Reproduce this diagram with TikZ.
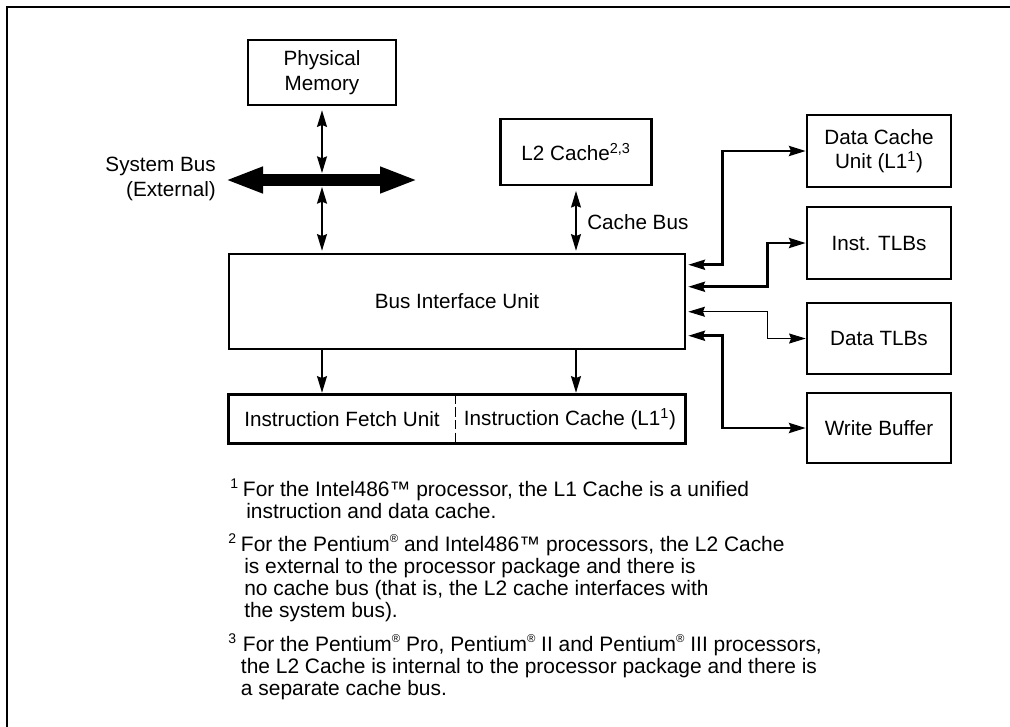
\documentclass[tikz,border=0pt]{standalone}
\usepackage{fontspec}
\setmainfont{Liberation Sans}
\usetikzlibrary{arrows.meta,calc}
\newcommand{\regmark}{\raisebox{0.75ex}{\fontsize{8.5}{9}\selectfont ®}}
\begin{document}
\begin{tikzpicture}[x=0.75pt,y=-0.75pt,
  >={Stealth[length=12.5pt,width=7.5pt,inset=1.5pt]},
  box/.style={draw,line width=1.9pt,inner sep=0pt,align=center,font=\fontsize{15.5}{18.5}\selectfont},
  lbl/.style={inner sep=0pt,align=center,font=\fontsize{15.5}{18.5}\selectfont},
  foot/.style={inner sep=0pt,anchor=base west,font=\fontsize{15.7}{18}\selectfont},
  fnum/.style={inner sep=0pt,anchor=base west,font=\fontsize{10.5}{12}\selectfont},
  heavy/.style={line width=2pt,<->},
  medium/.style={line width=1pt,<->},
  thin/.style={line width=0.7pt,<->},
  down/.style={line width=1pt,->},
  busarrow/.style={line width=9pt,{Triangle[length=28.5pt,width=18pt]}-{Triangle[length=28.5pt,width=18pt]}}
]
\useasboundingbox (0,0) rectangle (1010,726);
% frame
\draw[line width=1.6pt] (1012,7) -- (7,7) -- (7,728);

% boxes
\node[box, minimum width=111pt, minimum height=48.75pt] (pm) at (322,72.5) {Physical\\Memory};
\node[box, minimum width=113.25pt, minimum height=49.5pt] (l2) at (576,152) {L2 Cache\textsuperscript{2,3}};
\node[box, minimum width=108pt, minimum height=54pt] (dcu) at (879,151) {Data Cache\\Unit (L1\textsuperscript{1})};
\node[box, minimum width=108pt, minimum height=54pt] (itlb) at (879,243) {Inst. TLBs};
\node[box, minimum width=108pt, minimum height=53.25pt] (dtlb) at (879,338.5) {Data TLBs};
\node[box, minimum width=108pt, minimum height=52.5pt] (wb) at (879,428) {Write Buffer};
\node[box, minimum width=342pt, minimum height=71.25pt] (biu) at (457,301.5) {Bus Interface Unit};
\node[lbl, minimum width=169.5pt, minimum height=36pt] (ifu) at (342,419) {Instruction Fetch Unit};
\node[lbl, minimum width=172.5pt, minimum height=36pt] (ic) at (570,419) {Instruction Cache (L1\textsuperscript{1})};
\draw[line width=1.9pt] (ifu.north west) rectangle (ic.south east);
\draw[line width=0.7pt, dash pattern=on 7pt off 2.5pt] (ifu.north east) -- (ifu.south east);

% system bus
\coordinate (busL) at (225,180);
\coordinate (busR) at (418,180);
\coordinate (busT) at (322,173);
\coordinate (busB) at (322,187);
\draw[busarrow] (busL) -- (busR);
\node[lbl, anchor=east, align=right] (sblbl) at (216,179) {System Bus\\(External)};

\draw[medium] ([yshift=-3pt]pm.south) -- (busT);
\draw[medium] (busB) -- ([yshift=1.5pt]biu.north -| busB);

% cache bus
\draw[medium] ([yshift=-3.5pt]l2.south) -- ([yshift=1.5pt]l2.south |- biu.north);
\node[lbl, anchor=west] (cblbl) at (587,222) {Cache Bus};

% down arrows
\draw[down] (biu.south -| pm.south) -- ([yshift=1.5pt]ifu.north -| pm.south);
\draw[down] (biu.south -| l2.south) -- ([yshift=1.5pt]ic.north -| l2.south);

% right side connectors
\coordinate (colA) at (722.5,0);
\coordinate (colB) at (767.5,0);
\draw[heavy] ([shift={(2,12)}]biu.north east) -| (colA |- dcu.west) -- (dcu.west);
\draw[heavy] ([shift={(2,34)}]biu.north east) -| (colB |- itlb.west) -- (itlb.west);
\draw[thin] ([shift={(2,59)}]biu.north east) -| (colB |- dtlb.west) -- (dtlb.west);
\draw[heavy] ([shift={(2,83)}]biu.north east) -| (colA |- wb.west) -- (wb.west);

% footnotes
\node[fnum] (f1n) at (230,488) {1};
\node[foot] (f1a) at (242.7,496) {For the Intel486™ processor, the L1 Cache is a unified};
\node[foot] (f1b) at (246,518) {instruction and data cache.};
\node[fnum] (f2n) at (228,543) {2};
\node[foot] (f2a) at (240.7,551) {For the Pentium\regmark{} and Intel486™ processors, the L2 Cache};
\node[foot] (f2b) at (244,573) {is external to the processor package and there is};
\node[foot] (f2c) at (244,595) {no cache bus (that is, the L2 cache interfaces with};
\node[foot] (f2d) at (244,617) {the system bus).};
\node[fnum] (f3n) at (228,643) {3};
\node[foot] (f3a) at (242.7,651) {For the Pentium\regmark{} Pro, Pentium\regmark{} II and Pentium\regmark{} III processors,};
\node[foot] (f3b) at (240.7,673) {the L2 Cache is internal to the processor package and there is};
\node[foot] (f3c) at (240.7,695) {a separate cache bus.};
\end{tikzpicture}
\end{document}
